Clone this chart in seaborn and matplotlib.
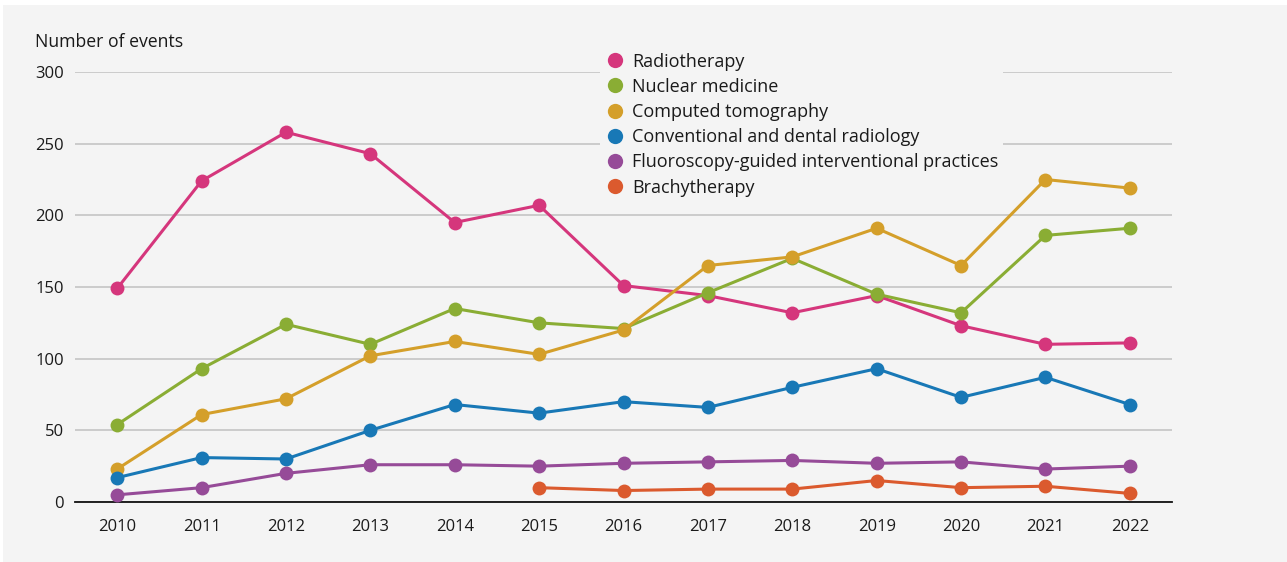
import matplotlib
matplotlib.use("Agg")
import matplotlib.pyplot as plt
from matplotlib.lines import Line2D
from matplotlib.patches import Rectangle
import numpy as np
import pandas as pd
import seaborn as sns

years = list(range(2010, 2023))
radiotherapy = [149, 224, 258, 243, 195, 207, 151, 144, 132, 144, 123, 110, 111]
nuclear_medicine = [54, 93, 124, 110, 135, 125, 121, 146, 170, 145, 132, 186, 191]
computed_tomography = [23, 61, 72, 102, 112, 103, 120, 165, 171, 191, 165, 225, 219]
conventional_dental = [17, 31, 30, 50, 68, 62, 70, 66, 80, 93, 73, 87, 68]
fluoroscopy = [5, 10, 20, 26, 26, 25, 27, 28, 29, 27, 28, 23, 25]
brachytherapy = [None, None, None, None, None, 10, 8, 9, 9, 15, 10, 11, 6]

series = {
    "Radiotherapy": radiotherapy,
    "Nuclear medicine": nuclear_medicine,
    "Computed tomography": computed_tomography,
    "Conventional and dental radiology": conventional_dental,
    "Fluoroscopy-guided interventional practices": fluoroscopy,
    "Brachytherapy": brachytherapy,
}
colors = ["#d5367c", "#8aad34", "#d49f2a", "#1878b6", "#964b98", "#db5a2e"]
yticks = [0, 50, 100, 150, 200, 250, 300]

rows = []
for name, vals in series.items():
    for y, v in zip(years, vals):
        if v is not None:
            rows.append({"Year": y, "Events": v, "Category": name})
df = pd.DataFrame(rows)

sns.set_theme(style="white")
plt.rcParams["font.family"] = ["Open Sans", "DejaVu Sans"]

BG = "#f4f4f4"
W, H = 1287, 562
fig = plt.figure(figsize=(W / 100, H / 100), dpi=100, facecolor="white")
fig.patches.append(Rectangle((3 / W, 0), 1 - 3 / W, 1 - 5 / H, transform=fig.transFigure,
                             facecolor=BG, edgecolor="none", zorder=-10))

ax = fig.add_axes([75 / W, (H - 502) / H, 1097 / W, 430 / H])
ax.set_facecolor(BG)

palette = dict(zip(series.keys(), colors))
sns.lineplot(data=df, x="Year", y="Events", hue="Category", palette=palette,
             hue_order=list(series.keys()), marker="o", markersize=10,
             markeredgewidth=0, linewidth=2.2, ax=ax, legend=False, clip_on=False,
             zorder=3)

ax.set_xlim(2009.5, 2022.5)
ax.set_ylim(0, 300)
ax.set_xticks(years)
ax.set_xticklabels([str(y) for y in years], fontsize=12, color="#1a1a1a")
ax.set_yticks(yticks)
ax.set_yticklabels([str(v) for v in yticks], fontsize=12, color="#1a1a1a")
ax.tick_params(axis="x", length=0, pad=12)
ax.tick_params(axis="y", length=0, pad=8)
for lbl in ax.get_yticklabels():
    lbl.set_horizontalalignment("right")
ax.yaxis.grid(True, color="#c4c4c4", linewidth=1.2)
ax.set_axisbelow(True)
for side in ["left", "right", "top"]:
    ax.spines[side].set_visible(False)
ax.spines["bottom"].set_color("#111111")
ax.spines["bottom"].set_linewidth(1.3)
ax.set_xlabel("")
ax.set_ylabel("")

fig.text(35 / W, 1 - 42 / H, "Number of events", fontsize=12.7, color="#1a1a1a",
         ha="left", va="center")

handles = [Line2D([], [], linestyle="none", marker="o", markersize=11,
                  markeredgewidth=0, color=c) for c in colors]
leg = ax.legend(handles, list(series.keys()), loc="upper left",
                bbox_to_anchor=(600 / W, 1 - 48 / H), bbox_transform=fig.transFigure,
                frameon=True, fontsize=13, handletextpad=0.35, labelspacing=0.40,
                borderpad=0.25, handlelength=1.2, borderaxespad=0)
leg.get_frame().set_facecolor(BG)
leg.get_frame().set_edgecolor("none")
leg.get_frame().set_alpha(1)
leg.set_zorder(5)
for t in leg.get_texts():
    t.set_color("#1a1a1a")

fig.savefig("out.png", dpi=100, facecolor="white")
